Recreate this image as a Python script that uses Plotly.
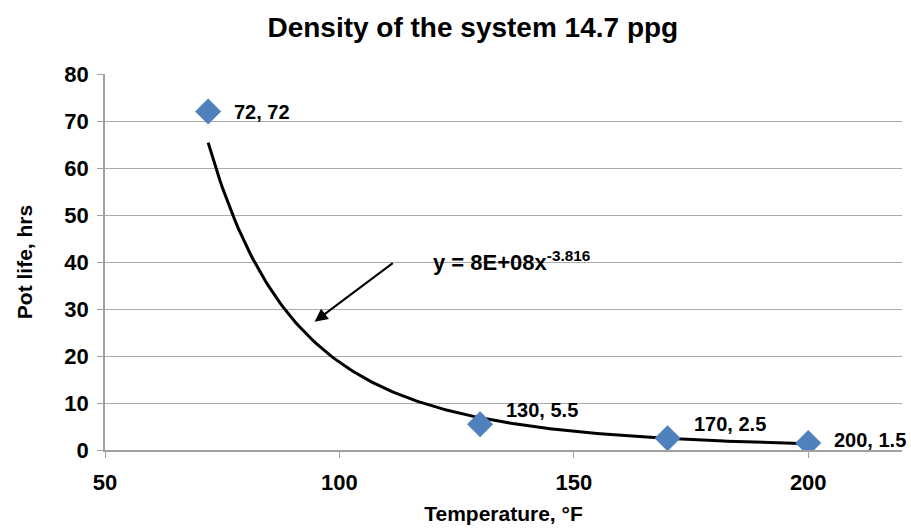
import numpy as np
import plotly.graph_objects as go

temps = [72, 130, 170, 200]
pot_life = [72, 5.5, 2.5, 1.5]
labels = ["72, 72", "130, 5.5", "170, 2.5", "200, 1.5"]
label_dy = [0, 14, 14, 3]
fit_coef = 8e8
fit_exp = -3.816
fit_x = np.linspace(72, 200, 200)
fit_y = fit_coef * fit_x ** fit_exp

FONT = "Liberation Sans"

fig = go.Figure()
fig.add_trace(go.Scatter(x=fit_x, y=fit_y, mode="lines",
                         line=dict(color="black", width=3), showlegend=False, hoverinfo="skip"))
fig.add_trace(go.Scatter(x=temps, y=pot_life, mode="markers",
                         marker=dict(symbol="diamond", size=20, color="#4F81BD",
                                     line=dict(width=0)), showlegend=False))

for x, y, t, dy in zip(temps, pot_life, labels, label_dy):
    fig.add_annotation(x=x, y=y, text=t, showarrow=False,
                       xanchor="left", yanchor="middle", xshift=24, yshift=dy,
                       font=dict(family=FONT, size=20, color="black", weight="bold"))

fig.add_annotation(x=94.7, y=27.3, ax=111.7, ay=40, xref="x", yref="y", axref="x", ayref="y",
                   showarrow=True, arrowhead=2, arrowsize=1.3, arrowwidth=2, arrowcolor="black", text="")
fig.add_annotation(x=119.5, y=40.2, text="y = 8E+08x<sup>-3.816</sup>", showarrow=False,
                   xanchor="left", yanchor="middle",
                   font=dict(family=FONT, size=22, color="black", weight="bold"))

fig.update_layout(
    width=911, height=531,
    margin=dict(l=105, r=9, t=74, b=79),
    paper_bgcolor="white", plot_bgcolor="white",
    title=dict(text="Density of the system 14.7 ppg", x=0.519, xanchor="center",
               y=0.948, yanchor="middle", font=dict(family=FONT, size=28, color="black", weight="bold")),
    xaxis=dict(range=[50, 220], tickvals=[50, 100, 150, 200], showgrid=False,
               showline=True, linecolor="#A0A0A0", linewidth=1.5,
               ticks="outside", ticklen=6, tickcolor="#A0A0A0", ticklabelstandoff=6,
               tickfont=dict(family=FONT, size=22, color="black", weight="bold"),
               title=dict(text="Temperature, °F", font=dict(family=FONT, size=21, color="black", weight="bold"),
                          standoff=12),
               zeroline=False),
    yaxis=dict(range=[0, 80], dtick=10, showgrid=True, gridcolor="#ABABAB", gridwidth=1,
               showline=True, linecolor="#A0A0A0", linewidth=1.5,
               ticks="outside", ticklen=6, tickcolor="#A0A0A0", ticklabelstandoff=4,
               tickfont=dict(family=FONT, size=22, color="black", weight="bold"),
               title=dict(text="Pot life, hrs", font=dict(family=FONT, size=21, color="black", weight="bold"),
                          standoff=26),
               zeroline=False),
)

fig.write_html("out.html")
